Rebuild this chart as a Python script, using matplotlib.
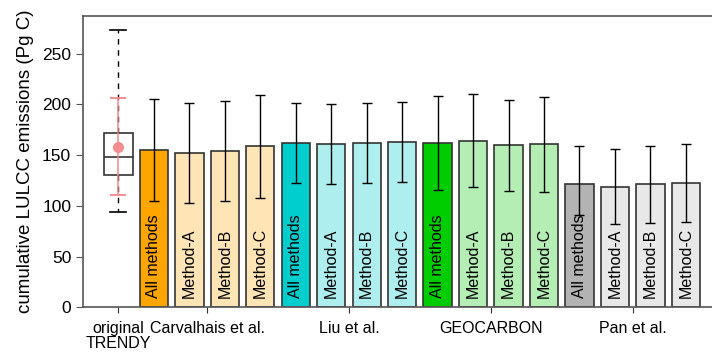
import matplotlib
matplotlib.use("Agg")
import matplotlib.pyplot as plt
import numpy as np

plt.rcParams['font.family'] = ['Liberation Sans', 'DejaVu Sans']

# original TRENDY ensemble (box plot stats)
trendy_box = dict(whislo=94, q1=130, med=148, q3=171.5, whishi=273)
trendy_mean = 158
trendy_lo, trendy_hi = 111, 206

gruppen = ["Carvalhais et al.", "Liu et al.", "GEOCARBON", "Pan et al."]
metody = ["All methods", "Method-A", "Method-B", "Method-C"]

wartosci = [154.5, 151.6, 154.1, 158.8,
            161.7, 161.0, 161.7, 163.0,
            161.7, 164.3, 160.0, 160.7,
            121.0, 118.7, 121.0, 122.3]
err_gora = [205, 201.4, 203.7, 209.3,
            200.8, 200.4, 200.8, 202.4,
            208, 210.3, 204.7, 207.2,
            158.8, 156.1, 158.8, 160.7]
err_dol = [104.6, 102.4, 104.3, 107.9,
           122.3, 121.4, 122.6, 123.6,
           115.5, 118.7, 114.5, 113.8,
           91, 81.7, 83, 84.3]

kolory_ciemne = ["#FFA500", "#00CDCD", "#00CD00", "#B3B3B3"]
kolory_jasne = ["#FFE4B5", "#AEEEEE", "#B4EEB4", "#E8E8E8"]

fig = plt.figure(figsize=(7.12, 3.54), dpi=100)
ax = fig.add_axes([83 / 712, 1 - 307.3 / 354, (721.3 - 83) / 712, (307.3 - 16) / 354])

# boxplot TRENDY
ax.bxp([trendy_box], positions=[0], widths=0.83, showfliers=False, patch_artist=True,
       boxprops=dict(facecolor="white", edgecolor="#333333", linewidth=1.2),
       medianprops=dict(color="#333333", linewidth=1.2),
       whiskerprops=dict(color="black", linestyle=(0, (4, 4)), linewidth=1.0),
       capprops=dict(color="black", linewidth=1.2), capwidths=0.45)
ax.errorbar([0], [trendy_mean], yerr=[[trendy_mean - trendy_lo], [trendy_hi - trendy_mean]],
            fmt="o", color="#F4858A", markersize=7, capsize=6, elinewidth=1.2,
            capthick=1.5, zorder=5, alpha=0.9)

x = np.arange(1, 17)
kolory = []
etykiety = []
for g in range(4):
    for m in range(4):
        kolory.append(kolory_ciemne[g] if m == 0 else kolory_jasne[g])
        etykiety.append(metody[m])

wartosci = np.array(wartosci)
yerr = [wartosci - np.array(err_dol), np.array(err_gora) - wartosci]
ax.bar(x, wartosci, width=0.8, color=kolory, edgecolor="#333333", linewidth=1.2, zorder=2)
ax.errorbar(x, wartosci, yerr=yerr, fmt="none", ecolor="black", elinewidth=1.0,
            capsize=3.5, capthick=1.0, zorder=3)

for xi, lab in zip(x, etykiety):
    ax.text(xi, 9, lab, rotation=90, ha="center", va="bottom", fontsize=11.5, zorder=4)

ax.set_xlim(-1, 17)
ax.set_ylim(0, 287)
ax.set_yticks(np.arange(0, 251, 50))
ax.set_xticks([0, 2.5, 6.5, 10.5, 14.5])
ax.set_xticklabels(["original\nTRENDY"] + gruppen, fontsize=11.5, linespacing=0.95)
ax.tick_params(axis="y", labelsize=12.5, direction="out", length=5, color="#555555")
ax.tick_params(axis="x", direction="out", length=4, color="#333333", pad=6)
ax.set_ylabel("cumulative LULCC emissions (Pg C)", fontsize=13.5, labelpad=6)
for s in ax.spines.values():
    s.set_color("#555555")
    s.set_linewidth(1.2)

fig.savefig("out.png", dpi=100)
